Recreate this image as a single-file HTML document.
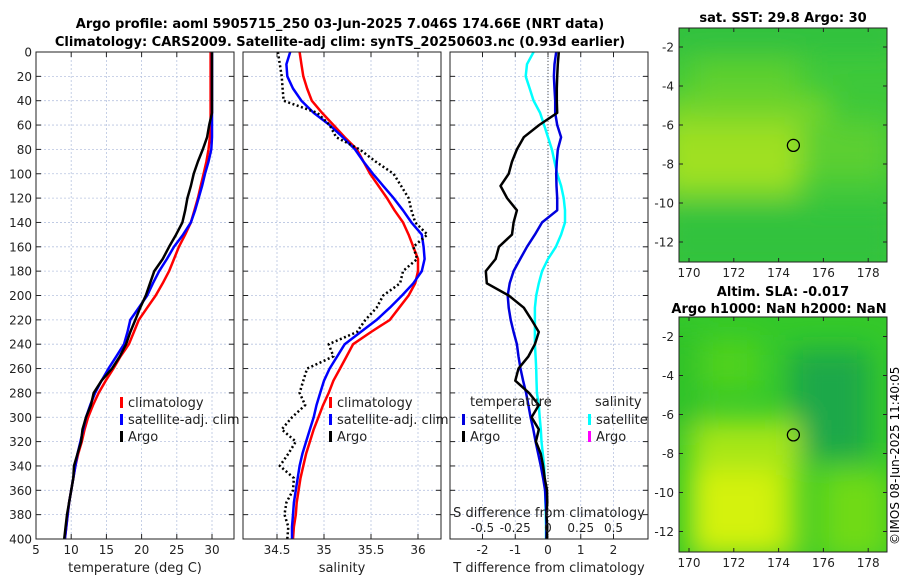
<!DOCTYPE html>
<html><head><meta charset="utf-8"><style>
html,body{margin:0;padding:0;background:#fff;}
svg text{font-family:"DejaVu Sans","Liberation Sans",sans-serif;}
</style></head><body>
<svg id="chart" width="900" height="580" viewBox="0 0 900 580" xmlns="http://www.w3.org/2000/svg">
<defs>
<filter id="blur1" x="-20%" y="-20%" width="140%" height="140%"><feGaussianBlur stdDeviation="14"/></filter>
<clipPath id="clipM1"><rect x="679" y="28" width="208" height="234"/></clipPath>
<clipPath id="clipM2"><rect x="679" y="317" width="208" height="235"/></clipPath>
</defs>
<text x="340" y="28" font-size="13" font-weight="bold" text-anchor="middle">Argo profile: aoml 5905715_250 03-Jun-2025 7.046S 174.66E (NRT data)</text>
<text x="340" y="46" font-size="13" font-weight="bold" text-anchor="middle">Climatology: CARS2009. Satellite-adj clim: synTS_20250603.nc (0.93d earlier)</text>
<g id="g1"></g>
<g id="g2"></g>
<g id="g3"></g>
<g id="maps">
 <g clip-path="url(#clipM1)">
  <rect x="679" y="28" width="208" height="234" fill="#3ec83a"/>
  <g filter="url(#blur1)">
   <rect x="660" y="95" width="170" height="45" fill="#78d62c"/>
   <rect x="660" y="125" width="140" height="70" fill="#9fe022"/>
   <rect x="800" y="120" width="90" height="60" fill="#5ccf30"/>
   <rect x="690" y="60" width="110" height="40" fill="#5fd02e"/>
   <rect x="660" y="205" width="240" height="70" fill="#30c23e"/>
   <rect x="660" y="20" width="240" height="30" fill="#2fc040"/>
  </g>
 </g>
 <rect x="679" y="28" width="208" height="234" fill="none" stroke="#222" stroke-width="1"/>
 <g clip-path="url(#clipM2)">
  <rect x="679" y="317" width="208" height="235" fill="#34c82a"/>
  <g filter="url(#blur1)">
   <rect x="790" y="350" width="80" height="110" fill="#1ea84a"/>
   <rect x="700" y="340" width="60" height="50" fill="#4fd21e"/>
   <rect x="690" y="420" width="110" height="140" fill="#a6e612"/>
   <rect x="690" y="470" width="90" height="80" fill="#d4f20c"/>
   <rect x="820" y="470" width="70" height="90" fill="#70da16"/>
   <rect x="660" y="330" width="40" height="100" fill="#2ec22a"/>
  </g>
 </g>
 <rect x="679" y="317" width="208" height="235" fill="none" stroke="#222" stroke-width="1"/>
 <text x="783" y="22" font-size="13" font-weight="bold" text-anchor="middle">sat. SST: 29.8 Argo: 30</text>
 <text x="783" y="296" font-size="13" font-weight="bold" text-anchor="middle">Altim. SLA: -0.017</text>
 <text x="779" y="313" font-size="13" font-weight="bold" text-anchor="middle">Argo h1000: NaN h2000: NaN</text>
 <text transform="translate(899,545) rotate(-90)" font-size="12">©IMOS 08-Jun-2025 11:40:05</text>
</g>
</svg>
<script>
// ---------- data ----------
const depths = [0,10,20,30,40,50,60,70,80,90,100,110,120,130,140,150,160,170,180,190,200,210,220,230,240,250,260,270,280,290,300,310,320,330,340,350,360,370,380,390,400];
const tempClim = [29.8,29.8,29.8,29.8,29.8,29.8,29.8,29.7,29.5,29.2,28.8,28.4,28.0,27.5,27.0,26.2,25.3,24.6,23.9,23.0,22.0,20.8,19.6,18.9,18.2,17.0,16.0,14.9,13.9,13.1,12.4,11.9,11.5,11.0,10.6,10.3,10.0,9.7,9.5,9.3,9.1];
const tempSat = [30.0,30.0,30.0,30.0,30.0,30.0,30.0,30.0,29.9,29.5,29.0,28.6,28.1,27.6,27.0,25.9,24.6,23.6,22.5,21.6,20.8,19.6,18.4,18.0,17.5,16.4,15.3,14.3,13.4,12.7,12.1,11.7,11.3,10.9,10.6,10.3,10.0,9.7,9.5,9.3,9.1];
const tempArgo = [30.0,30.0,30.0,30.0,30.0,30.0,29.6,29.3,28.7,28.0,27.4,27.0,26.5,26.2,25.8,24.9,23.9,23.0,21.8,21.2,20.6,19.8,19.1,18.4,17.8,16.9,15.8,14.3,13.2,12.8,12.1,11.6,11.4,10.9,10.4,10.3,10.0,9.7,9.4,9.2,9.0];
const salClim = [34.74,34.76,34.78,34.82,34.87,34.98,35.10,35.22,35.35,35.42,35.49,35.58,35.67,35.75,35.84,35.90,35.95,36.00,36.00,35.97,35.90,35.80,35.70,35.50,35.31,35.24,35.17,35.10,35.05,34.99,34.94,34.89,34.85,34.81,34.78,34.75,34.73,34.71,34.70,34.68,34.67];
const salSat = [34.64,34.60,34.61,34.67,34.76,34.89,35.06,35.20,35.33,35.42,35.52,35.63,35.74,35.84,35.93,36.04,36.06,36.07,36.04,35.95,35.83,35.70,35.56,35.39,35.22,35.14,35.06,35.00,34.96,34.92,34.89,34.85,34.81,34.77,34.74,34.72,34.70,34.68,34.67,34.66,34.66];
const salArgo = [34.51,34.53,34.55,34.56,34.57,34.93,35.06,35.13,35.38,35.55,35.74,35.82,35.90,35.93,35.97,36.10,35.95,35.99,35.84,35.81,35.63,35.56,35.44,35.35,35.05,35.10,34.82,34.78,34.74,34.80,34.66,34.55,34.70,34.62,34.53,34.68,34.67,34.60,34.58,34.62,34.61];
const dTSat = [0.25,0.2,0.18,0.2,0.22,0.22,0.28,0.4,0.3,0.27,0.25,0.26,0.28,0.28,-0.18,-0.4,-0.64,-0.85,-1.05,-1.17,-1.23,-1.2,-1.14,-1.05,-0.95,-0.9,-0.84,-0.76,-0.67,-0.6,-0.53,-0.45,-0.38,-0.3,-0.22,-0.15,-0.09,-0.07,-0.05,-0.05,-0.05];
const dTArgo = [0.33,0.3,0.28,0.27,0.27,0.28,-0.27,-0.74,-0.95,-1.1,-1.2,-1.45,-1.25,-0.95,-1.05,-1.1,-1.5,-1.6,-1.9,-1.87,-1.2,-0.74,-0.5,-0.28,-0.4,-0.6,-0.9,-1.0,-0.58,-0.28,-0.5,-0.28,-0.37,-0.22,-0.15,-0.1,-0.03,-0.02,-0.05,-0.02,-0.04];
const dSSat = [-0.11,-0.16,-0.17,-0.14,-0.11,-0.06,-0.03,0.0,0.03,0.05,0.07,0.1,0.12,0.13,0.13,0.1,0.06,0.0,-0.045,-0.07,-0.09,-0.1,-0.1,-0.1,-0.1,-0.095,-0.09,-0.088,-0.085,-0.07,-0.063,-0.055,-0.05,-0.04,-0.03,-0.025,-0.022,-0.02,-0.017,-0.015,-0.015];
const tempTicks = [5,10,15,20,25,30];
const salTicks = [34.5,35,35.5,36];
const dTTicks = [-2,-1,0,1,2];
const dSTicks = ["-0.5","-0.25","0","0.25","0.5"];
const depthTicks = [0,20,40,60,80,100,120,140,160,180,200,220,240,260,280,300,320,340,360,380,400];
const lonTicks = [170,172,174,176,178];
const latTicks = [-2,-4,-6,-8,-10,-12];
const argoLon = 174.66, argoLat = -7.046;

// ---------- helpers ----------
const NS='http://www.w3.org/2000/svg';
function mk(tag, attrs, parent){const e=document.createElementNS(NS,tag);for(const k in attrs)e.setAttribute(k,attrs[k]);parent.appendChild(e);return e;}
const yTop=52, yBot=539;
const yD = d => yTop + (d/400)*(yBot-yTop);
const panels = {
  g1:{x0:36,x1:234,v0:5,v1:5+198/7.04},
  g2:{x0:243,x1:441,v0:34.5-(277-243)/94,v1:34.5+(441-277)/94},
  g3:{x0:450,x1:648,v0:-(548-450)/32.75,v1:(648-548)/32.75}
};
function xf(p){return v=>p.x0+(v-p.v0)/(p.v1-p.v0)*(p.x1-p.x0);}
function frame(g,p,ticks,xscale,labelsLeft){
  for(const t of ticks){const x=xscale(t);
    const l=mk('line',{x1:x,x2:x,y1:yTop,y2:yBot,stroke:'#b8c4e0','stroke-width':0.8,'stroke-dasharray':'2,2'},g);
    
    mk('line',{x1:x,x2:x,y1:yTop,y2:yTop+5,stroke:'#222'},g);
    mk('line',{x1:x,x2:x,y1:yBot,y2:yBot-5,stroke:'#222'},g);
  }
  for(const d of depthTicks){const y=yD(d);
    const l=mk('line',{x1:p.x0,x2:p.x1,y1:y,y2:y,stroke:'#b8c4e0','stroke-width':0.8,'stroke-dasharray':'2,2'},g);
    
    mk('line',{x1:p.x0,x2:p.x0+5,y1:y,y2:y,stroke:'#222'},g);
    mk('line',{x1:p.x1,x2:p.x1-5,y1:y,y2:y,stroke:'#222'},g);
    if(labelsLeft){const t=mk('text',{x:p.x0-4,y:y+4.5,'font-size':12,'text-anchor':'end',fill:'#222'},g);t.textContent=d;
      }
  }
}
function border(g,p){const r=mk('rect',{x:p.x0,y:yTop,width:p.x1-p.x0,height:yBot-yTop,fill:'none',stroke:'#222','stroke-width':1},g);
  }
function line(g,xs,vals,color,w,dash,name){
  const pts=vals.map((v,i)=>xs(v).toFixed(1)+','+yD(depths[i]).toFixed(1)).join(' ');
  const a={points:pts,fill:'none',stroke:color,'stroke-width':w,'stroke-linejoin':'round'};
  if(dash)a['stroke-dasharray']=dash;
  const e=mk('polyline',a,g);
  
  
}
function txt(g,x,y,s,size,anchor,name){const t=mk('text',{x:x,y:y,'font-size':size,'text-anchor':anchor||'start',fill:'#222'},g);t.textContent=s;
  return t;}
function legBar(g,x,y,color,name){const r=mk('rect',{x:x,y:y,width:3,height:11,fill:color},g);
  }

// ---------- panel 1 ----------
{const g=document.getElementById('g1'),p=panels.g1,xs=xf(p);
 frame(g,p,tempTicks,xs,true);
 line(g,xs,tempClim,'#ff0000',2.5,null,'temp-climatology-line');
 line(g,xs,tempSat,'#0000ff',2.5,null,'temp-satellite-line');
 line(g,xs,tempArgo,'#000',2.5,null,'temp-argo-line');
 border(g,p);
 for(const t of tempTicks)txt(g,xs(t),554,t,12,'middle','temp-tick-label');
 txt(g,135,572,'temperature (deg C)',13,'middle','temp-axis-title');
 legBar(g,120,397,'#ff0000','legend-climatology-swatch');txt(g,128,407,'climatology',13,'start','legend-climatology');
 legBar(g,120,414,'#0000ff','legend-satellite-swatch');txt(g,128,424,'satellite-adj. clim',13,'start','legend-satellite');
 legBar(g,120,431,'#000','legend-argo-swatch');txt(g,128,441,'Argo',13,'start','legend-argo');
}
// ---------- panel 2 ----------
{const g=document.getElementById('g2'),p=panels.g2,xs=xf(p);
 frame(g,p,salTicks,xs,false);
 line(g,xs,salClim,'#ff0000',2.5,null,'sal-climatology-line');
 line(g,xs,salSat,'#0000ff',2.5,null,'sal-satellite-line');
 line(g,xs,salArgo,'#000',2.5,'2,2.5','sal-argo-line');
 border(g,p);
 for(const t of salTicks)txt(g,xs(t),554,t,12,'middle','sal-tick-label');
 txt(g,342,572,'salinity',13,'middle','sal-axis-title');
 legBar(g,329,397,'#ff0000','legend-climatology-swatch');txt(g,337,407,'climatology',13,'start','legend-climatology');
 legBar(g,329,414,'#0000ff','legend-satellite-swatch');txt(g,337,424,'satellite-adj. clim',13,'start','legend-satellite');
 legBar(g,329,431,'#000','legend-argo-swatch');txt(g,337,441,'Argo',13,'start','legend-argo');
}
// ---------- panel 3 ----------
{const g=document.getElementById('g3'),p=panels.g3,xs=xf(p);
 frame(g,p,dTTicks,xs,false);
 const z=mk('line',{x1:xs(0),x2:xs(0),y1:yTop,y2:yBot,stroke:'#555','stroke-width':1,'stroke-dasharray':'1,2'},g);
 
 const sScale=v=>xs(v*4);
 line(g,sScale,dSSat,'#00ffff',2.5,null,'sal-diff-satellite-line');
 line(g,xs,dTSat,'#0000dd',2.5,null,'temp-diff-satellite-line');
 line(g,xs,dTArgo,'#000',2.5,null,'temp-diff-argo-line');
 border(g,p);
 for(const t of dTTicks)txt(g,xs(t),554,t,12,'middle','dt-tick-label');
 txt(g,549,572,'T difference from climatology',13,'middle','dt-axis-title');
 txt(g,549,517,'S difference from climatology',13,'middle','ds-axis-title');
 for(const s of dSTicks)txt(g,sScale(parseFloat(s)),532,s,12,'middle','ds-tick-label');
 txt(g,470,406,'temperature',13,'start','legend-temperature-header');
 legBar(g,462,414,'#0000dd','legend-t-satellite-swatch');txt(g,470,424,'satellite',13,'start','legend-t-satellite');
 legBar(g,462,431,'#000','legend-t-argo-swatch');txt(g,470,441,'Argo',13,'start','legend-t-argo');
 txt(g,595,406,'salinity',13,'start','legend-salinity-header');
 legBar(g,588,414,'#00ffff','legend-s-satellite-swatch');txt(g,596,424,'satellite',13,'start','legend-s-satellite');
 legBar(g,588,431,'#ff00ff','legend-s-argo-swatch');txt(g,596,441,'Argo',13,'start','legend-s-argo');
}
// ---------- maps ----------
{const g=document.getElementById('maps');
 const lonX=l=>689+(l-170)*22.4;
 const maps=[{y0:28,y1:262,latY:la=>47+(-2-la)*19.5},{y0:317,y1:552,latY:la=>336.5+(-2-la)*19.5}];
 for(const m of maps){
   for(const l of lonTicks){const x=lonX(l);
     mk('line',{x1:x,x2:x,y1:m.y1,y2:m.y1-4,stroke:'#222'},g);mk('line',{x1:x,x2:x,y1:m.y0,y2:m.y0+4,stroke:'#222'},g);
     txt(g,x,m.y1+15,l,12,'middle','lon-tick-label');}
   for(const la of latTicks){const y=m.latY(la);
     mk('line',{x1:679,x2:683,y1:y,y2:y,stroke:'#222'},g);mk('line',{x1:887,x2:883,y1:y,y2:y,stroke:'#222'},g);
     txt(g,674,y+4.5,la,12,'end','lat-tick-label');}
   const c=mk('circle',{cx:lonX(argoLon),cy:m.latY(argoLat),r:6,fill:'none',stroke:'#000','stroke-width':1.3},g);
   
 }
}
</script>
</body></html>
